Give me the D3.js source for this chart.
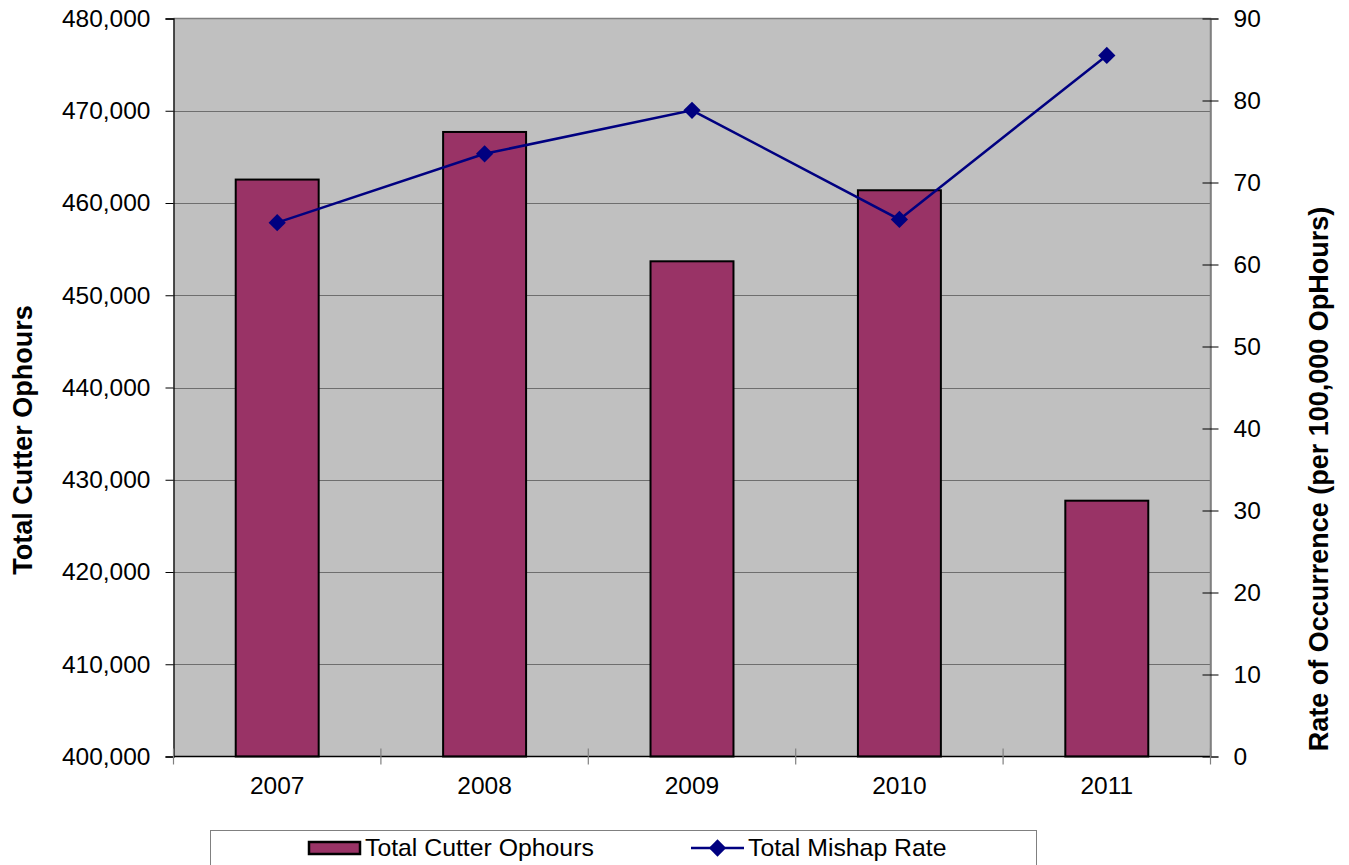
<!DOCTYPE html>
<html>
<head>
<meta charset="utf-8">
<script src="https://cdn.jsdelivr.net/npm/d3@7"></script>
<style>
  html, body { margin: 0; padding: 0; background: #fff; }
  svg { display: block; font-family: "Liberation Sans", Arial, sans-serif; }
</style>
</head>
<body>
<svg id="chart" width="1349" height="865"></svg>
<script>
// Data
const years = ["2007", "2008", "2009", "2010", "2011"];
const cutterOphours = [462540, 467700, 453680, 461380, 427730];
const mishapRate = [65.1, 73.5, 78.8, 65.5, 85.5];
const leftTicks = [400000, 410000, 420000, 430000, 440000, 450000, 460000, 470000, 480000];
const rightTicks = [0, 10, 20, 30, 40, 50, 60, 70, 80, 90];
const seriesNames = ["Total Cutter Ophours", "Total Mishap Rate"];

const svg = d3.select("#chart");
const plot = { left: 173.5, top: 18.5, right: 1210.5, bottom: 756.5 };

const x = d3.scaleBand().domain(years).range([plot.left, plot.right]);
const yL = d3.scaleLinear().domain([400000, 480000]).range([plot.bottom, plot.top]);
const yR = d3.scaleLinear().domain([0, 90]).range([plot.bottom, plot.top]);
const fmt = d3.format(",");

// plot background
svg.append("rect")
  .attr("x", plot.left).attr("y", plot.top)
  .attr("width", plot.right - plot.left).attr("height", plot.bottom - plot.top)
  .attr("fill", "#c0c0c0");

// horizontal gridlines from the left axis
svg.append("g").selectAll("line")
  .data(leftTicks.slice(1, -1))
  .join("line")
  .attr("x1", plot.left).attr("x2", plot.right)
  .attr("y1", d => Math.round(yL(d)) + 0.5).attr("y2", d => Math.round(yL(d)) + 0.5)
  .attr("stroke", "#6e6e6e").attr("stroke-width", 1);

// frame: gray top & right
svg.append("path")
  .attr("d", `M${plot.left},${plot.top}H${plot.right}V${plot.bottom}`)
  .attr("fill", "none").attr("stroke", "#808080").attr("stroke-width", 1.5);

// bars
const barW = x.bandwidth() * 0.4;
svg.append("g").selectAll("rect")
  .data(years.map((y, i) => ({ year: y, v: cutterOphours[i] })))
  .join("rect")
  .attr("x", d => x(d.year) + (x.bandwidth() - barW) / 2)
  .attr("y", d => yL(d.v))
  .attr("width", barW)
  .attr("height", d => yL(400000) - yL(d.v))
  .attr("fill", "#993366")
  .attr("stroke", "#000").attr("stroke-width", 2);

// left axis
const gL = svg.append("g").attr("transform", `translate(${plot.left},0)`)
  .call(d3.axisLeft(yL).tickValues(leftTicks).tickFormat(fmt).tickSize(8).tickPadding(15));
gL.select(".domain").attr("stroke", "#000").attr("stroke-width", 1.3);
gL.selectAll(".tick line").attr("stroke", "#000");
gL.selectAll(".tick text").attr("font-size", 24.5).attr("fill", "#000")
  .attr("font-family", "Liberation Sans, Arial, sans-serif");

// right axis
const gR = svg.append("g").attr("transform", `translate(${plot.right},0)`)
  .call(d3.axisRight(yR).tickValues(rightTicks).tickSize(8).tickPadding(15));
gR.select(".domain").attr("stroke", "#808080").attr("stroke-width", 1.5);
gR.selectAll(".tick line").attr("stroke", "#000").attr("x1", -8);
gR.selectAll(".tick text").attr("font-size", 24.5).attr("fill", "#000")
  .attr("font-family", "Liberation Sans, Arial, sans-serif");

// bottom axis: labels at band centres, ticks at band boundaries
const gB = svg.append("g").attr("transform", `translate(0,${plot.bottom})`);
gB.append("line").attr("x1", plot.left).attr("x2", plot.right)
  .attr("stroke", "#000").attr("stroke-width", 1.5);
gB.selectAll("line.bt")
  .data(years.map(y => x(y)).concat([plot.right]))
  .join("line").attr("class", "bt")
  .attr("x1", d => d).attr("x2", d => d)
  .attr("y1", -8).attr("y2", 8)
  .attr("stroke", "#808080").attr("stroke-width", 1.2);
gB.selectAll("text")
  .data(years)
  .join("text")
  .attr("x", d => x(d) + x.bandwidth() / 2)
  .attr("y", 31)
  .attr("text-anchor", "middle")
  .attr("dominant-baseline", "middle")
  .attr("font-size", 24.5)
  .text(d => d);

// mishap rate line
const pts = years.map((y, i) => [x(y) + x.bandwidth() / 2, yR(mishapRate[i])]);
svg.append("path")
  .attr("d", d3.line()(pts))
  .attr("fill", "none").attr("stroke", "#000080").attr("stroke-width", 2.5);
const diamond = d3.symbol().type(d3.symbolDiamond2).size(190);
svg.append("g").selectAll("path")
  .data(pts)
  .join("path")
  .attr("transform", d => `translate(${d[0]},${d[1]})`)
  .attr("d", diamond)
  .attr("fill", "#000080");

// axis titles
svg.append("text")
  .attr("transform", `translate(32,440) rotate(-90)`)
  .attr("text-anchor", "middle")
  .attr("font-size", 27).attr("font-weight", "bold")
  .text("Total Cutter Ophours");
svg.append("text")
  .attr("transform", `translate(1328,479) rotate(-90)`)
  .attr("text-anchor", "middle")
  .attr("font-size", 27).attr("font-weight", "bold")
  .text("Rate of Occurrence (per 100,000 OpHours)");

// legend
const lg = svg.append("g");
lg.append("rect")
  .attr("x", 210.5).attr("y", 830.5).attr("width", 826).attr("height", 50)
  .attr("fill", "#fff").attr("stroke", "#808080").attr("stroke-width", 1);
lg.append("rect")
  .attr("x", 309).attr("y", 842).attr("width", 51).attr("height", 12)
  .attr("fill", "#993366").attr("stroke", "#000").attr("stroke-width", 2.5);
lg.append("text")
  .attr("x", 365).attr("y", 849).attr("dominant-baseline", "middle")
  .attr("font-size", 24.8).text(seriesNames[0]);
lg.append("line")
  .attr("x1", 691).attr("x2", 744).attr("y1", 848).attr("y2", 848)
  .attr("stroke", "#000080").attr("stroke-width", 2.5);
lg.append("path")
  .attr("transform", "translate(717.5,848)")
  .attr("d", diamond).attr("fill", "#000080");
lg.append("text")
  .attr("x", 748).attr("y", 849).attr("dominant-baseline", "middle")
  .attr("font-size", 24.8).text(seriesNames[1]);
</script>
</body>
</html>
